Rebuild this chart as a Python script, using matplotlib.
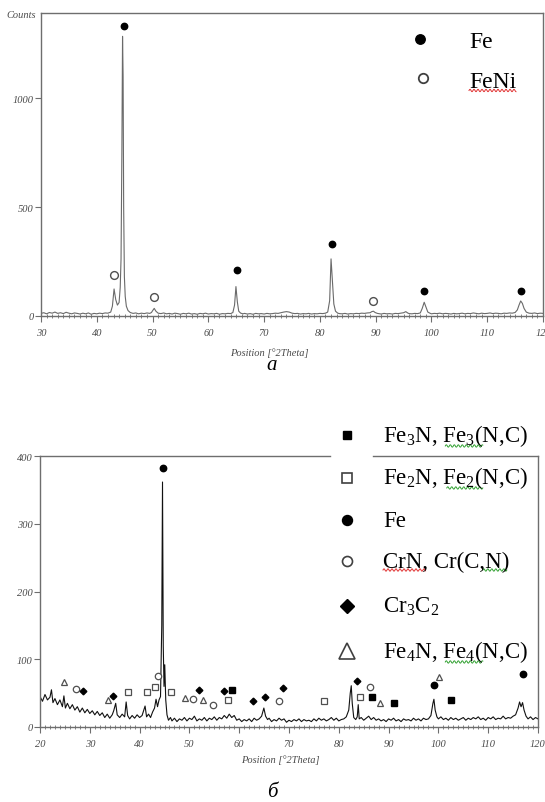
import numpy as np
import matplotlib
matplotlib.use("Agg")
import matplotlib.pyplot as plt
from matplotlib.lines import Line2D
from matplotlib.ticker import MultipleLocator
from matplotlib.transforms import IdentityTransform

plt.rcParams['font.family'] = ['Liberation Serif', 'DejaVu Serif']
plt.rcParams['mathtext.fontset'] = 'custom'
plt.rcParams['mathtext.rm'] = 'Liberation Serif'
plt.rcParams['mathtext.it'] = 'Liberation Serif:italic'

# ---------------- data: panel a ----------------
top_x = [30.0, 30.5, 31.0, 31.5, 32.0, 32.5, 33.0, 33.5, 34.0, 34.5, 35.0, 35.5, 36.0, 36.5, 37.0, 37.5,
         38.0, 38.5, 39.0, 39.5, 40.0, 40.5, 41.0, 41.5, 42.0, 42.5, 42.8, 43.1, 43.4, 43.7, 44.0, 44.2,
         44.35, 44.5, 44.62, 44.72, 44.82, 44.95, 45.1, 45.3, 45.6, 46.0, 46.5, 47.0, 47.5, 48.0, 48.5,
         49.0, 49.5, 49.8, 50.05, 50.3, 50.6, 51.0, 51.5, 52.0, 52.5, 53.0, 53.5, 54.0, 54.5, 55.0, 55.5,
         56.0, 56.5, 57.0, 57.5, 58.0, 58.5, 59.0, 59.5, 60.0, 60.5, 61.0, 61.5, 62.0, 62.5, 63.0, 63.5,
         64.0, 64.4, 64.7, 64.95, 65.2, 65.45, 65.8, 66.2, 66.5, 67.0, 67.5, 68.0, 68.5, 69.0, 69.5, 70.0,
         70.5, 71.0, 71.5, 72.0, 72.5, 73.0, 73.5, 74.0, 74.5, 75.0, 75.5, 76.0, 76.5, 77.0, 77.5, 78.0,
         78.5, 79.0, 79.5, 80.0, 80.5, 81.0, 81.4, 81.75, 82.0, 82.25, 82.5, 82.8, 83.2, 83.5, 84.0, 84.5,
         85.0, 85.5, 86.0, 86.5, 87.0, 87.5, 88.0, 88.5, 89.0, 89.3, 89.6, 89.9, 90.3, 90.5, 91.0, 91.5,
         92.0, 92.5, 93.0, 93.5, 94.0, 94.5, 95.0, 95.4, 95.8, 96.0, 96.5, 97.0, 97.5, 98.0, 98.35, 98.7,
         99.0, 99.35, 99.8, 100.0, 100.5, 101.0, 101.5, 102.0, 102.5, 103.0, 103.5, 104.0, 104.5, 105.0,
         105.5, 106.0, 106.5, 107.0, 107.5, 108.0, 108.5, 109.0, 109.5, 110.0, 110.5, 111.0, 111.5, 112.0,
         112.5, 113.0, 113.5, 114.0, 114.5, 115.0, 115.4, 115.7, 116.0, 116.3, 116.6, 117.0, 117.5, 118.0,
         118.5, 119.0, 119.5, 120.0]
top_y = [12, 15, 10, 16, 13, 18, 12, 15, 11, 17, 13, 10, 14, 12, 9, 13,
         10, 14, 8, 12, 10, 13, 11, 14, 13, 18, 45, 124, 75, 50, 62, 130,
         262, 750, 1283, 1100, 500, 180, 90, 45, 25, 16, 12, 14, 10, 13, 11,
         14, 12, 16, 26, 35, 22, 13, 11, 14, 10, 12, 9, 13, 11, 8, 12,
         10, 13, 9, 11, 8, 12, 10, 13, 9, 11, 10, 12, 8, 11, 10, 12,
         11, 16, 50, 135, 65, 22, 13, 10, 12, 9, 11, 8, 12, 10, 11, 9,
         12, 10, 11, 13, 12, 15, 18, 20, 18, 13, 11, 12, 9, 11, 10, 12,
         9, 11, 10, 12, 11, 13, 18, 70, 262, 160, 55, 22, 13, 11, 10, 12,
         9, 11, 10, 12, 11, 13, 12, 14, 15, 20, 22, 16, 12, 11, 9, 12,
         10, 11, 9, 12, 11, 13, 15, 20, 13, 11, 10, 12, 11, 14, 35, 63,
         42, 18, 12, 10, 12, 11, 13, 10, 12, 11, 9, 12, 10, 11,
         13, 10, 12, 11, 14, 12, 10, 13, 11, 12, 14, 11, 13, 12,
         10, 13, 12, 14, 13, 16, 28, 50, 69, 58, 35, 18, 13, 12,
         14, 11, 13, 12]

fe_a_x = [44.9, 65.05, 82.1, 98.7, 116.0]
fe_a_y = [1332, 210, 330, 115, 115]
feni_a_x = [43.1, 50.25, 89.55]
feni_a_y = [188, 86, 70]

# ---------------- data: panel b ----------------
bot_x = [20.0, 20.5, 21.0, 21.5, 22.0, 22.3, 22.6, 23.0, 23.5, 24.0, 24.5, 24.8, 25.1, 25.5, 26.0, 26.5,
         27.0, 27.5, 28.0, 28.5, 29.0, 29.5, 30.0, 30.5, 31.0, 31.5, 32.0, 32.5, 33.0, 33.5, 34.0, 34.5,
         34.8, 35.2, 35.5, 36.0, 36.5, 37.0, 37.3, 37.6, 38.0, 38.5, 39.0, 39.5, 40.0, 40.5, 41.1, 41.4,
         41.8, 42.2, 42.6, 43.0, 43.3, 43.6, 43.9, 44.2, 44.45, 44.6, 44.75, 44.9, 45.05, 45.25, 45.5, 45.8,
         46.2, 46.5, 47.0, 47.5, 48.0, 48.5, 49.0, 49.5, 50.0, 50.5, 51.0, 51.5, 52.0, 52.5, 53.0, 53.5,
         54.0, 54.5, 55.0, 55.5, 56.0, 56.5, 57.0, 57.5, 58.0, 58.5, 59.0, 59.5, 60.0, 60.5, 61.0, 61.5,
         62.0, 62.5, 63.0, 63.5, 64.0, 64.5, 64.95, 65.3, 65.7, 66.0, 66.5, 67.0, 67.5, 68.0, 68.5, 69.0,
         69.5, 70.0, 70.5, 71.0, 71.5, 72.0, 72.5, 73.0, 73.5, 74.0, 74.5, 75.0, 75.5, 76.0, 76.5, 77.0,
         77.5, 78.0, 78.5, 79.0, 79.5, 80.0, 80.5, 81.0, 81.5, 82.0, 82.3, 82.5, 82.7, 83.0, 83.4, 83.7,
         83.9, 84.1, 84.5, 85.0, 85.5, 86.0, 86.5, 87.0, 87.5, 88.0, 88.5, 89.0, 89.5, 90.0, 90.5, 91.0,
         91.5, 92.0, 92.5, 93.0, 93.5, 94.0, 94.5, 95.0, 95.5, 96.0, 96.5, 97.0, 97.5, 98.0, 98.5, 98.9,
         99.1, 99.35, 99.7, 100.0, 100.5, 101.0, 101.5, 102.0, 102.5, 103.0, 103.5, 104.0, 104.5, 105.0,
         105.5, 106.0, 106.5, 107.0, 107.5, 108.0, 108.5, 109.0, 109.5, 110.0, 110.5, 111.0, 111.5, 112.0,
         112.5, 113.0, 113.5, 114.0, 114.5, 115.0, 115.5, 116.0, 116.3, 116.6, 116.9, 117.2, 117.6, 118.0,
         118.5, 119.0, 119.5, 120.0]
bot_y = [45, 38, 48, 40, 44, 55, 36, 42, 33, 40, 30, 46, 28, 35, 27, 33,
         25, 30, 22, 28, 21, 26, 20, 24, 18, 23, 17, 21, 14, 19, 13, 18,
         24, 35, 18, 14, 19, 15, 37, 17, 12, 17, 13, 18, 14, 17, 31, 15,
         19, 14, 22, 28, 41, 30, 40, 45, 150, 362, 120, 60, 92, 40, 18, 10,
         14, 9, 13, 8, 12, 10, 14, 9, 13, 11, 16, 9, 12, 10, 14, 9,
         13, 11, 15, 10, 14, 12, 17, 13, 19, 14, 17, 10, 12, 8, 11, 9,
         12, 8, 13, 10, 12, 16, 28, 16, 11, 13, 8, 11, 9, 13, 10, 12,
         7, 10, 8, 11, 9, 12, 8, 11, 9, 10, 8, 12, 9, 13, 10, 12,
         9, 11, 14, 10, 13, 9, 11, 12, 15, 25, 50, 61, 35, 14, 11, 15,
         33, 12, 14, 10, 13, 16, 11, 14, 10, 12, 9, 11, 8, 12, 10, 13,
         9, 11, 8, 12, 10, 11, 9, 13, 10, 12, 9, 13, 11, 12, 17, 35,
         41, 25, 15, 12, 15, 11, 13, 10, 14, 11, 13, 10, 12, 14,
         10, 13, 11, 14, 12, 15, 11, 13, 10, 14, 12, 15, 11, 13,
         12, 16, 12, 14, 13, 16, 18, 28, 37, 30, 36, 25, 16, 12,
         15, 11, 14, 12]

fe3n_x = [58.6, 86.7, 91.1, 102.5]
fe3n_y = [54, 45, 35, 40]
fe2n_x = [37.7, 41.4, 43.1, 46.4, 57.8, 77.1, 84.2]
fe2n_y = [51, 51, 59, 51, 40, 38, 45]
fe_b_x = [44.6, 99.1, 117.0]
fe_b_y = [382, 62, 79]
crn_x = [27.2, 43.7, 50.8, 54.7, 68.0, 86.2]
crn_y = [56, 76, 41, 32, 38, 59]
cr3c2_x = [28.6, 34.7, 51.9, 56.9, 62.8, 65.2, 68.7, 83.6]
cr3c2_y = [53, 46, 54, 53, 38, 45, 58, 68]
fe4n_x = [24.9, 33.7, 49.2, 52.8, 88.2, 100.1]
fe4n_y = [67, 40, 43, 40, 35, 74]

xticks_a = [30, 40, 50, 60, 70, 80, 90, 100, 110, 120]
yticks_a = [0, 500, 1000]
xticks_b = [20, 30, 40, 50, 60, 70, 80, 90, 100, 110, 120]
yticks_b = [0, 100, 200, 300, 400]

legend_a = ['Fe', 'FeNi']
legend_b = ['Fe$_3$N, Fe$_3$(N,C)', 'Fe$_2$N, Fe$_2$(N,C)', 'Fe', 'CrN, Cr(C,N)',
            'Cr$_3$C$_2$', 'Fe$_4$N, Fe$_4$(N,C)']

# ---------------- figure ----------------
W, H = 545, 803
fig = plt.figure(figsize=(W / 100, H / 100), dpi=100)
fig.patch.set_facecolor('white')


def fx(x):
    return x / W


def fy(y):
    return 1 - y / H


axA = fig.add_axes([fx(41), fy(317), (543 - 41) / W, (317 - 14) / H])
axB = fig.add_axes([fx(40), fy(728), (538 - 40) / W, (728 - 457.3) / H])

SPINE = '#6e6e6e'
TICKC = '#4a4a4a'


def style_axes(ax, xticks, yticks):
    ax.set_xticks(xticks)
    ax.set_yticks(yticks)
    ax.xaxis.set_minor_locator(MultipleLocator(1))
    for s in ax.spines.values():
        s.set_color(SPINE)
        s.set_linewidth(1.0)
    ax.tick_params(axis='x', which='major', direction='out', length=4, width=0.8,
                   color=SPINE, labelsize=7.5, labelcolor=TICKC, pad=5)
    ax.tick_params(axis='x', which='minor', direction='inout', length=3.5, width=0.6,
                   color=SPINE)
    ax.tick_params(axis='y', which='major', direction='out', length=4, width=0.8,
                   color=SPINE, labelsize=7.5, labelcolor=TICKC, pad=1.5)
    for lab in ax.get_xticklabels() + ax.get_yticklabels():
        lab.set_fontstyle('italic')


# panel a
axA.plot(top_x, top_y, color='#6a6a6a', lw=0.8)
axA.set_xlim(30, 120)
axA.set_ylim(0, 1390)
style_axes(axA, xticks_a, yticks_a)
axA.plot(fe_a_x, fe_a_y, 'o', ms=4.6, color='black', clip_on=False)
axA.plot(feni_a_x, feni_a_y, 'o', ms=5.6, mfc='white', mec='#505050', mew=1.0, clip_on=False)

# panel b
axB.plot(bot_x, bot_y, color='#111111', lw=0.8)
axB.set_xlim(20, 120)
axB.set_ylim(0, 400)
style_axes(axB, xticks_b, yticks_b)
axB.spines['top'].set_visible(False)
axB.plot([0, (330 - 40) / 498], [1, 1], transform=axB.transAxes, color=SPINE, lw=1.0, clip_on=False)
axB.plot([(373 - 40) / 498, 1], [1, 1], transform=axB.transAxes, color=SPINE, lw=1.0, clip_on=False)

ms_b = 4.0
axB.plot(fe3n_x, fe3n_y, 's', ms=ms_b, color='black', clip_on=False)
axB.plot(fe2n_x, fe2n_y, 's', ms=ms_b + 0.6, mfc='white', mec='#505050', mew=0.9, clip_on=False)
axB.plot(fe_b_x, fe_b_y, 'o', ms=ms_b + 0.6, color='black', clip_on=False)
axB.plot(crn_x, crn_y, 'o', ms=ms_b + 0.6, mfc='white', mec='#505050', mew=0.9, clip_on=False)
axB.plot(cr3c2_x, cr3c2_y, 'D', ms=ms_b - 0.6, color='black', clip_on=False)
axB.plot(fe4n_x, fe4n_y, '^', ms=ms_b + 0.8, mfc='white', mec='#505050', mew=0.9, clip_on=False)

# axis captions
fig.text(fx(36), fy(16), 'Counts', ha='right', va='center', fontsize=7.5,
         style='italic', color=TICKC)
fig.text(fx(269), fy(353), 'Position [°2Theta]', ha='center', va='center', fontsize=7.5,
         style='italic', color=TICKC)
fig.text(fx(280), fy(760), 'Position [°2Theta]', ha='center', va='center', fontsize=7.5,
         style='italic', color=TICKC)
fig.text(fx(272), fy(366), 'а', ha='center', va='center', fontsize=15, style='italic')
fig.text(fx(272), fy(793), 'б', ha='center', va='center', fontsize=15, style='italic')

# legend panel a
fig.add_artist(Line2D([fx(420)], [fy(40)], marker='o', ms=6.8, color='black', ls='none'))
fig.add_artist(Line2D([fx(423)], [fy(79)], marker='o', ms=6.8, mfc='white', mec='#404040',
                      mew=1.3, ls='none'))
tA = [fig.text(fx(469), fy(48.5), legend_a[0], ha='left', va='baseline', fontsize=17),
      fig.text(fx(469), fy(88.5), legend_a[1], ha='left', va='baseline', fontsize=17)]

# legend panel b
leg_marker_y = [436, 479, 521, 562, 607, 652]
leg_base_y = [442, 484, 527, 568, 613, 658]
leg_styles = [dict(marker='s', ms=6.3, color='black'),
              dict(marker='s', ms=6.6, mfc='white', mec='#404040', mew=1.2),
              dict(marker='o', ms=7.2, color='black'),
              dict(marker='o', ms=7.2, mfc='white', mec='#404040', mew=1.2),
              dict(marker='D', ms=6.8, color='black'),
              dict(marker='^', ms=11.5, mfc='white', mec='#404040', mew=1.2)]
tB = []
for my, by, st, lab in zip(leg_marker_y, leg_base_y, leg_styles, legend_b):
    fig.add_artist(Line2D([fx(347)], [fy(my)], ls='none', **st))
    tB.append(fig.text(fx(383), fy(by), lab, ha='left', va='baseline', fontsize=16.5))

# spell-check style wavy underlines
fig.canvas.draw()
renderer = fig.canvas.get_renderer()


def wavy(t, f0, f1, color):
    bb = t.get_window_extent(renderer=renderer)
    x0 = bb.x0 + f0 * bb.width
    x1 = bb.x0 + f1 * bb.width
    xs = np.arange(x0, x1, 0.5)
    ys = bb.y0 + 2.0 + 1.2 * np.sin((xs - x0) * np.pi / 2.0)
    fig.add_artist(Line2D(xs, ys, transform=IdentityTransform(), color=color, lw=0.7))


RED = '#e03030'
GREEN = '#30a030'
wavy(tA[1], 0.0, 1.0, RED)
wavy(tB[0], 0.43, 0.69, GREEN)
wavy(tB[1], 0.44, 0.69, GREEN)
wavy(tB[3], 0.0, 0.34, RED)
wavy(tB[3], 0.79, 0.98, GREEN)
wavy(tB[5], 0.43, 0.69, GREEN)

fig.savefig('out.png', dpi=100, facecolor='white')
